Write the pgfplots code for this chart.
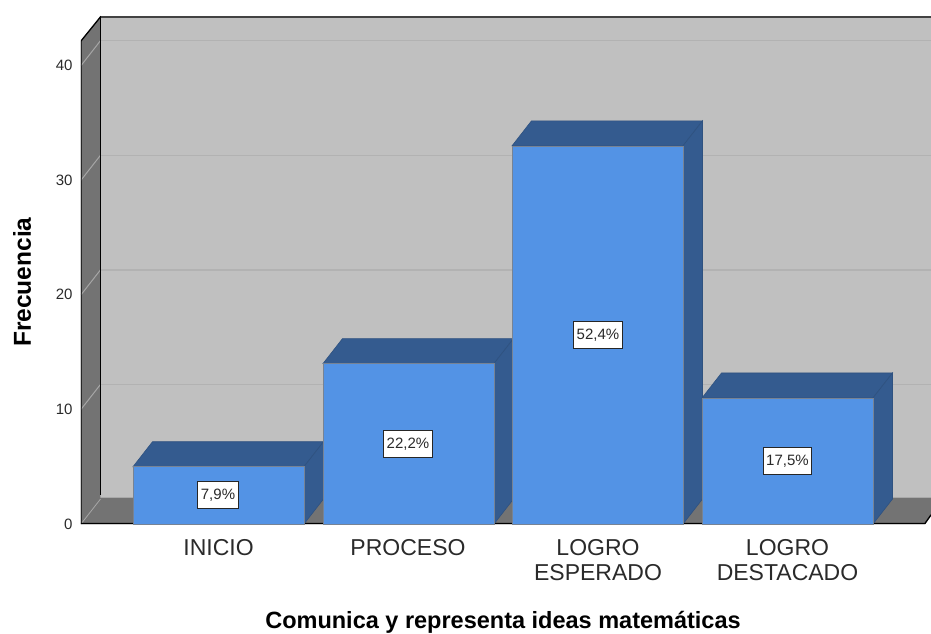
\documentclass[border=0pt]{standalone}
\usepackage{pgfplots}
\usepackage{fontspec}
\pgfplotsset{compat=1.18}
\setmainfont{Liberation Sans}
\definecolor{barfront}{HTML}{5393E5}
\definecolor{barshade}{HTML}{345B8F}
\definecolor{baredge}{HTML}{2F5280}
\definecolor{wallback}{HTML}{C0C0C0}
\definecolor{wallside}{HTML}{737373}
\definecolor{gridback}{HTML}{B2B2B2}
\definecolor{gridside}{HTML}{A6A6A6}
\definecolor{labeltext}{HTML}{2A2A2A}
% depth of the box, x in axis units, y in frequency units
\newcommand{\barface}[3]{%
  \addplot[fill=barshade,draw=baredge,line width=.6pt] coordinates
    {(#1,#3) (#2,#3) (#2+19.5,#3+2.18) (#1+19.5,#3+2.18)} --cycle;
  \addplot[fill=barshade,draw=baredge,line width=.6pt] coordinates
    {(#2,0) (#2+19.5,2.18) (#2+19.5,#3+2.18) (#2,#3)} --cycle;
}
\begin{document}
\begin{tikzpicture}[x=1pt,y=1pt]
\useasboundingbox (0,0) rectangle (931,633);
\begin{axis}[
  at={(81pt,109pt)},anchor=south west,
  width=850pt,height=508pt,scale only axis,
  xmin=81,xmax=931,ymin=0,ymax=44.33,
  axis line style={draw=none},
  major tick length=0pt,
  xtick={218.5,408,598,787.5},
  xticklabels={INICIO,PROCESO,{LOGRO\\ESPERADO},{LOGRO\\DESTACADO}},
  xticklabel style={font=\fontsize{23}{25}\selectfont,text=labeltext,align=center,anchor=north,yshift=-12pt},
  ytick={0,10,20,30,40},
  yticklabel style={font=\fontsize{15}{16}\selectfont,text=labeltext,anchor=east,xshift=-5pt},
  /pgf/number format/assume math mode=true,
  xlabel={Comunica y representa ideas matemáticas},
  ylabel={Frecuencia},
  xlabel style={font=\bfseries\fontsize{23.5}{25}\selectfont,at={(axis description cs:0.4965,-0.193)},anchor=center},
  ylabel style={font=\bfseries\fontsize{24.5}{26}\selectfont,at={(axis description cs:-0.0694,0.476)},anchor=center},
  clip=true,
]
% back wall, side wall and floor
\addplot[fill=wallback,draw=none] coordinates {(100.5,2.3) (931,2.3) (931,44.33) (100.5,44.33)} --cycle;
\addplot[fill=wallside,draw=none] coordinates {(81,0) (100.5,2.18) (100.5,44.33) (81,42.15)} --cycle;
\addplot[fill=wallside,draw=none] coordinates {(81,0) (925,0) (945,2.3) (100.5,2.3)} --cycle;
% gridlines on the back wall and running down the side wall
\foreach \v in {10,20,30,40}{
  \edef\tmp{\noexpand\addplot[gridback,line width=1.4pt] coordinates {(100.5,\v+2.18) (931,\v+2.18)};
    \noexpand\addplot[gridside,line width=1pt] coordinates {(81,\v) (100.5,\v+2.18)};}
  \tmp
}
\addplot[gridside,line width=.8pt] coordinates {(81,0) (100.5,2.18)};
\addplot[wallback!70!wallside,line width=1pt] coordinates {(100.5,2.3) (931,2.3)};
% frame edges
\addplot[black,line width=1.3pt] coordinates {(81,0.05) (81,42.15) (100.5,44.25) (931,44.25)};
\addplot[black,line width=1.3pt] coordinates {(100.5,44.33) (100.5,2.5)};
\addplot[black,line width=1.3pt] coordinates {(81,0.05) (925,0.05) (931,0.8)};
% bars, left to right: top and side first, then the front face
\barface{133}{304}{5}
\addplot[ybar,bar width=171pt,fill=barfront,draw=gray!80!barfront,line width=.6pt] coordinates {(218.5,5)};
\barface{323}{494}{14}
\addplot[ybar,bar width=171pt,fill=barfront,draw=gray!80!barfront,line width=.6pt] coordinates {(408.5,14)};
\barface{512}{683}{33}
\addplot[ybar,bar width=171pt,fill=barfront,draw=gray!80!barfront,line width=.6pt] coordinates {(597.5,33)};
\barface{702}{873}{11}
\addplot[ybar,bar width=171pt,fill=barfront,draw=gray!80!barfront,line width=.6pt] coordinates {(787.5,11)};
% percentage labels at mid height of each bar
\addplot[draw=none,mark=none,point meta=explicit,
  nodes near coords={\pgfmathprintnumber[fixed,fixed zerofill,precision=1,use comma,assume math mode=true]{\pgfplotspointmeta}\%},
  every node near coord/.style={anchor=center,fill=white,draw=black!85,line width=1pt,
    font=\fontsize{15}{16}\selectfont,text=labeltext,inner sep=3pt,minimum height=27pt,yshift=0pt}]
  table[x=x,y=y,meta=pct] {
x y pct
218 2.5 7.9
408 7 22.2
598 16.5 52.4
787.5 5.5 17.5
};
\end{axis}
\end{tikzpicture}
\end{document}
